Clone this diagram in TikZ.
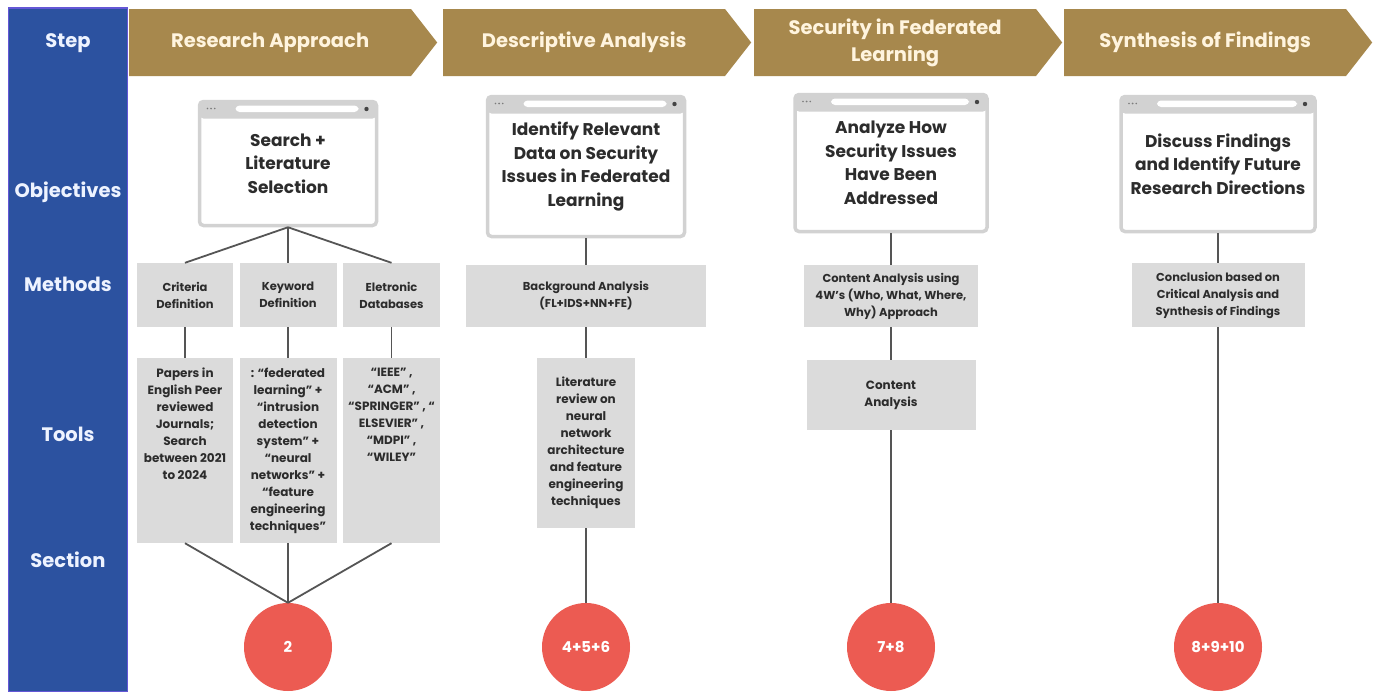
\documentclass[tikz,border=0pt]{standalone}
\usepackage{fontspec}
\setmainfont{Poppins}
\usetikzlibrary{shapes.symbols,calc}

\definecolor{sideblue}{HTML}{2C52A0}
\definecolor{sideedge}{HTML}{6457D6}
\definecolor{sidetext}{HTML}{EEF3FF}
\definecolor{gold}{HTML}{A7884D}
\definecolor{cream}{HTML}{FFF4DE}
\definecolor{boxgray}{HTML}{DBDBDB}
\definecolor{framegray}{HTML}{D2D2D2}
\definecolor{dotdark}{HTML}{444444}
\definecolor{txt}{HTML}{2C2C2C}
\definecolor{linegray}{HTML}{555555}
\definecolor{coral}{HTML}{EC5B52}

\tikzset{
  sidelabel/.style={text=sidetext, font=\fontsize{19.5}{22}\selectfont\bfseries, inner sep=0pt},
  banner/.style={signal, signal to=east, signal from=nowhere, signal pointer angle=104,
    fill=gold, text=cream, font=\fontsize{19.5}{27}\selectfont\bfseries, align=center,
    minimum width=308pt, minimum height=67pt, inner sep=0pt, anchor=west},
  objbox/.style={draw=framegray, line width=3.5pt, fill=white, rounded corners=4pt,
    align=center, text=txt, font=\fontsize{17}{23.5}\selectfont\bfseries, inner sep=0pt,
    path picture={
      \fill[framegray] (path picture bounding box.north west) rectangle ([yshift=-17pt]path picture bounding box.north east);
      \fill[white] ([xshift=36pt,yshift=-4pt]path picture bounding box.north west) rectangle ([xshift=-18pt,yshift=-10.5pt]path picture bounding box.north east);
      \fill[dotdark] ([xshift=-10pt,yshift=-7.5pt]path picture bounding box.north east) circle (2.2pt);
      \foreach \k in {0,1,2}
        \fill[dotdark!70] ([xshift={(8+3.6*\k)*1pt},yshift=-7pt]path picture bounding box.north west) circle (0.9pt);
    }},
  methbox/.style={fill=boxgray, inner sep=0pt, align=center, text=txt,
    font=\fontsize{11.5}{17}\selectfont\bfseries},
  toolbox/.style={fill=boxgray, inner sep=0pt, align=center, text=txt,
    font=\fontsize{12}{17}\selectfont\bfseries},
  secnode/.style={circle, fill=coral, text=white, minimum size=88pt, inner sep=0pt,
    font=\fontsize{15}{18}\selectfont\bfseries},
  conn/.style={draw=linegray, line width=1.8pt}
}

% text block hanging from the top of a tall tool box
\newcommand{\hangtext}[3]{\parbox[c][#2][t]{#1}{\centering\vspace*{10pt}#3}}

\begin{document}
\begin{tikzpicture}[x=1pt,y=-1pt]
  \useasboundingbox (0,0) rectangle (1384,691);
  \fill[white] (0,0) rectangle (1384,691);

  % row header column
  \node[fill=sideblue, draw=sideedge, line width=1.2pt, minimum width=119pt, minimum height=684pt, inner sep=0pt] (side) at (68,350) {};
  \node[sidelabel] (lstep) at (68,43) {Step};
  \node[sidelabel] (lobj) at (68,192) {Objectives};
  \node[sidelabel] (lmeth) at (68,284) {Methods};
  \node[sidelabel] (ltools) at (68,434) {Tools};
  \node[sidelabel] (lsec) at (68,560) {Section};

  % step banners
  \node[banner] (b1) at (129,42.5) {Research Approach};
  \node[banner] (b2) at (443,42.5) {Descriptive Analysis};
  \node[banner] (b3) at (754,42.5) {\raisebox{-2pt}{\parbox{240pt}{\centering Security in Federated\\Learning}}};
  \node[banner] (b4) at (1064,42.5) {Synthesis of Findings};

  % objectives
  \node[objbox, minimum width=177pt, minimum height=124pt] (o1) at (288,163.5) {Search +\\Literature\\Selection};
  \node[objbox, minimum width=197pt, minimum height=140pt] (o2) at (586,166.5) {Identify Relevant\\Data on Security\\Issues in Federated\\Learning};
  \node[objbox, minimum width=192pt, minimum height=137pt] (o3) at (891,163) {Analyze How\\Security Issues\\Have Been\\Addressed};
  \node[objbox, minimum width=194pt, minimum height=135pt] (o4) at (1218,164) {Discuss Findings\\and Identify Future\\Research Directions};

  % methods
  \node[methbox, minimum width=96pt, minimum height=64pt] (m1a) at (185,295) {Criteria\\Definition};
  \node[methbox, minimum width=97pt, minimum height=64pt] (m1b) at (288,295) {Keyword\\Definition};
  \node[methbox, minimum width=97pt, minimum height=64pt] (m1c) at (391.5,295) {Eletronic\\Databases};
  \node[methbox, minimum width=240pt, minimum height=62pt] (m2) at (586,296) {Background Analysis\\(FL+IDS+NN+FE)};
  \node[methbox, minimum width=174pt, minimum height=62pt] (m3) at (891,296) {Content Analysis using\\4W's (Who, What, Where,\\Why) Approach};
  \node[methbox, minimum width=173pt, minimum height=64pt] (m4) at (1218,295) {Conclusion based on\\Critical Analysis and\\Synthesis of Findings};

  % tools
  \node[toolbox] (t1a) at (185,450.5) {\hangtext{96pt}{185pt}{Papers in\\English Peer\\reviewed\\Journals;\\Search\\between 2021\\to 2024}};
  \node[toolbox] (t1b) at (288,450.5) {\hangtext{97pt}{185pt}{: “federated\\learning” +\\“intrusion\\detection\\system” +\\“neural\\networks” +\\“feature\\engineering\\techniques”}};
  \node[toolbox] (t1c) at (391.5,450.5) {\hangtext{97pt}{185pt}{“IEEE” ,\\“ACM” ,\\“SPRINGER” , “\\ELSEVIER” ,\\“MDPI” ,\\“WILEY”}};
  \node[toolbox, minimum width=98pt, minimum height=170pt] (t2) at (586,443) {Literature\\review on\\neural\\network\\architecture\\and feature\\engineering\\techniques};
  \node[toolbox, minimum width=169pt, minimum height=70pt] (t3) at (891,395) {Content\\Analysis};

  % sections
  \node[secnode] (c1) at (288,647) {2};
  \node[secnode] (c2) at (586,647) {4+5+6};
  \node[secnode] (c3) at (891,647) {7+8};
  \node[secnode] (c4) at (1218,647) {8+9+10};

  % connectors
  \draw[conn] (o1.south) -- (m1a.north);
  \draw[conn] (o1.south) -- (m1b.north);
  \draw[conn] (o1.south) -- (m1c.north);
  \draw[conn] (m1a.south) -- (t1a.north);
  \draw[conn] (m1b.south) -- (t1b.north);
  \draw[conn] (m1c.south) -- (t1c.north);
  \draw[conn] (t1a.south) -- (c1.north);
  \draw[conn] (t1b.south) -- (c1.north);
  \draw[conn] (t1c.south) -- (c1.north);

  \draw[conn] (o2.south) -- (m2.north);
  \draw[conn] (m2.south) -- (t2.north);
  \draw[conn] (t2.south) -- (c2.north);

  \draw[conn] (o3.south) -- (m3.north);
  \draw[conn] (m3.south) -- (t3.north);
  \draw[conn] (t3.south) -- (c3.north);

  \draw[conn] (o4.south) -- (m4.north);
  \draw[conn] (m4.south) -- (c4.north);
\end{tikzpicture}
\end{document}
